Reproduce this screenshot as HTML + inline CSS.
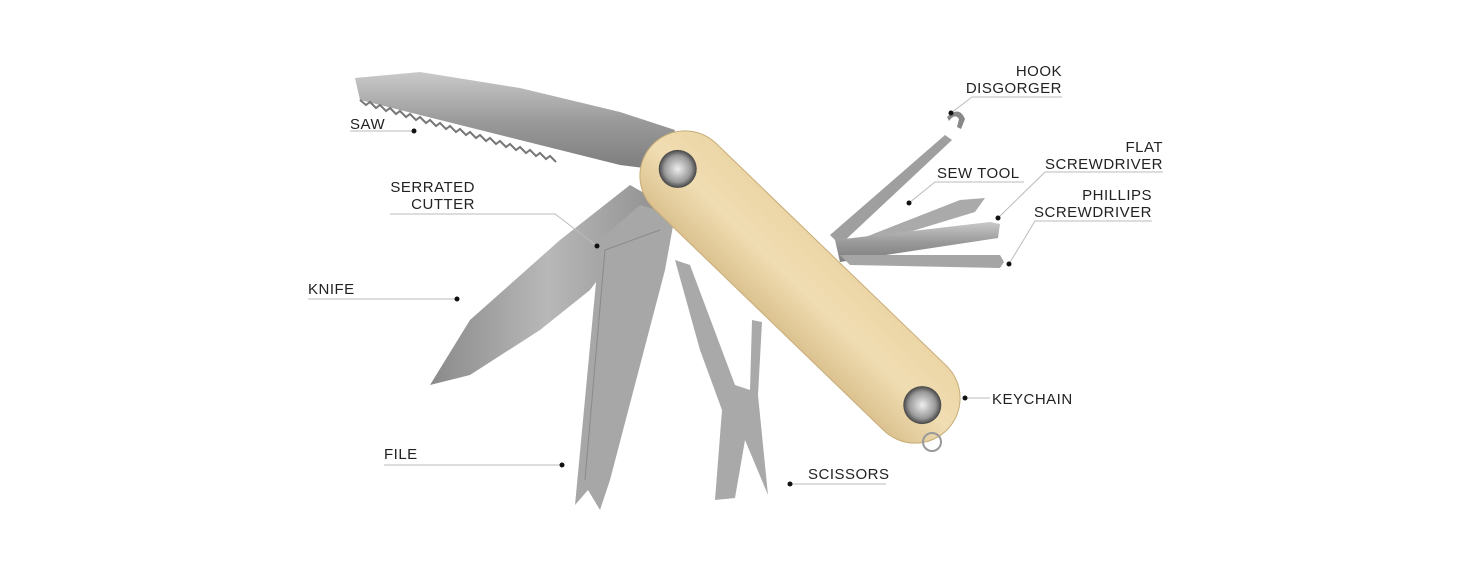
<!DOCTYPE html>
<html><head><meta charset="utf-8"><style>
html,body{margin:0;padding:0;background:#fff;}
svg{display:block}
text{font-family:"Liberation Sans",sans-serif;font-size:15px;fill:#222;letter-spacing:0.5px}
</style></head><body>
<svg width="1470" height="576" viewBox="0 0 1470 576" xmlns="http://www.w3.org/2000/svg">
<defs>
<linearGradient id="m" x1="0" y1="0" x2="0" y2="1"><stop offset="0" stop-color="#c9c9c9"/><stop offset="0.5" stop-color="#9a9a9a"/><stop offset="1" stop-color="#7d7d7d"/></linearGradient>
<linearGradient id="m2" x1="0" y1="0" x2="1" y2="0"><stop offset="0" stop-color="#8a8a8a"/><stop offset="0.5" stop-color="#b8b8b8"/><stop offset="1" stop-color="#8f8f8f"/></linearGradient>
<linearGradient id="w" x1="0" y1="0" x2="0" y2="1"><stop offset="0" stop-color="#ecd6a6"/><stop offset="0.5" stop-color="#f0ddb2"/><stop offset="1" stop-color="#dcc290"/></linearGradient>
<radialGradient id="r"><stop offset="0" stop-color="#eee"/><stop offset="0.7" stop-color="#999"/><stop offset="1" stop-color="#444"/></radialGradient>
</defs>
<!-- saw -->
<path d="M355,78 L420,72 L520,88 L620,112 L675,130 L660,170 L620,165 L560,150 L480,130 L400,110 L360,100 Z" fill="url(#m)"/>
<path d="M360,100 l6,5 l4,-3 l6,6 l4,-3 l6,6 l4,-3 l6,6 l4,-3 l6,6 l4,-3 l6,6 l4,-3 l6,6 l4,-3 l6,6 l4,-3 l6,6 l4,-3 l6,6 l4,-3 l6,6 l4,-3 l6,6 l4,-3 l6,6 l4,-3 l6,6 l4,-3 l6,6 l4,-3 l6,6 l4,-3 l6,6 l4,-3 l6,6 l4,-3 l6,6 l4,-3 l6,6" fill="none" stroke="#777" stroke-width="2"/>
<!-- knife -->
<path d="M430,385 L470,320 L560,240 L630,185 L665,205 L620,250 L590,290 L540,330 L470,375 Z" fill="url(#m2)"/>
<!-- file -->
<path d="M575,505 L600,240 L640,205 L675,215 L665,270 L610,480 L600,510 L588,490 Z" fill="#a7a7a7"/>
<path d="M585,480 L605,250 L660,230" fill="none" stroke="#8a8a8a" stroke-width="1"/>
<!-- scissors -->
<path d="M675,260 L690,265 L735,385 L750,390 L752,320 L762,322 L758,395 L768,495 L745,440 L735,498 L715,500 L722,410 L700,350 Z" fill="#a9a9a9"/>
<!-- right tools -->
<path d="M830,235 L945,135 L952,140 L840,245 Z" fill="#9f9f9f"/>
<path d="M947,117 q12,-12 18,2 l-4,10 l-4,-2 l2,-8 q-4,-6 -10,2 Z" fill="#888"/>
<path d="M845,245 L960,200 L985,198 L975,212 L850,250 Z" fill="#aaa"/>
<path d="M835,240 L990,222 L1000,224 L998,238 L840,262 Z" fill="url(#m)"/>
<path d="M840,255 L1000,255 L1004,262 L1000,268 L850,265 Z" fill="#a5a5a5"/>
<!-- handle -->
<g transform="translate(800,287) rotate(44)">
<rect x="-205" y="-45" width="410" height="90" rx="45" fill="url(#w)" stroke="#c7ad78" stroke-width="1"/>
<circle cx="-170" cy="0" r="19" fill="url(#r)"/>
<circle cx="170" cy="0" r="19" fill="url(#r)"/>
</g>
<circle cx="932" cy="442" r="9" fill="none" stroke="#999" stroke-width="2"/>
<!-- labels -->
<g stroke="#bbb" stroke-width="1" fill="none">
<path d="M350,131 H414"/>
<path d="M390,214 H555 L597,246"/>
<path d="M308,299 H457"/>
<path d="M384,465 H562"/>
<path d="M790,484 H886"/>
<path d="M965,398 H990"/>
<path d="M1062,97 H972 L951,113"/>
<path d="M1024,182 H935 L909,203"/>
<path d="M1163,172 H1045 L998,218"/>
<path d="M1152,221 H1035 L1009,264"/>
</g>
<g fill="#111">
<circle cx="414" cy="131" r="2.5"/><circle cx="597" cy="246" r="2.5"/><circle cx="457" cy="299" r="2.5"/>
<circle cx="562" cy="465" r="2.5"/><circle cx="790" cy="484" r="2.5"/><circle cx="965" cy="398" r="2.5"/>
<circle cx="951" cy="113" r="2.5"/><circle cx="909" cy="203" r="2.5"/><circle cx="998" cy="218" r="2.5"/><circle cx="1009" cy="264" r="2.5"/>
</g>
<text x="350" y="129">SAW</text>
<text x="475" y="192" text-anchor="end">SERRATED</text>
<text x="475" y="209" text-anchor="end">CUTTER</text>
<text x="308" y="294">KNIFE</text>
<text x="384" y="459">FILE</text>
<text x="808" y="479">SCISSORS</text>
<text x="992" y="404">KEYCHAIN</text>
<text x="1062" y="76" text-anchor="end">HOOK</text>
<text x="1062" y="93" text-anchor="end">DISGORGER</text>
<text x="937" y="178">SEW TOOL</text>
<text x="1163" y="152" text-anchor="end">FLAT</text>
<text x="1163" y="169" text-anchor="end">SCREWDRIVER</text>
<text x="1152" y="200" text-anchor="end">PHILLIPS</text>
<text x="1152" y="217" text-anchor="end">SCREWDRIVER</text>
</svg>
</body></html>
